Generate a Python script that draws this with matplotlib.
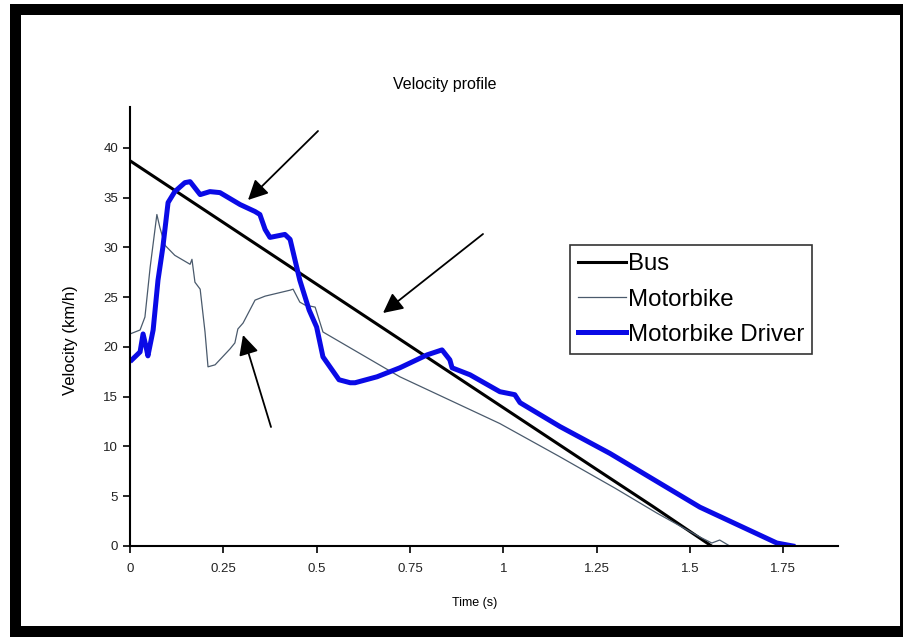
import matplotlib
matplotlib.use("Agg")
import matplotlib.pyplot as plt
from matplotlib.patches import Rectangle

plt.rcParams['font.family'] = ['Liberation Sans', 'DejaVu Sans']

# --- data ---
bus_t = [0.0, 0.25, 0.5, 0.75, 1.0, 1.25, 1.4, 1.558]
bus_v = [38.7, 32.5, 26.3, 20.1, 13.9, 7.7, 4.0, 0.0]

moto_t = [0.0, 0.027, 0.04, 0.054, 0.072, 0.08, 0.094, 0.12, 0.161, 0.166,
          0.174, 0.188, 0.201, 0.209, 0.228, 0.268, 0.281, 0.289, 0.303,
          0.335, 0.362, 0.429, 0.437, 0.455, 0.469, 0.496, 0.517, 0.723,
          0.991, 1.15, 1.3, 1.412, 1.527, 1.559, 1.58, 1.607]
moto_v = [21.3, 21.7, 23.0, 28.0, 33.3, 32.0, 30.2, 29.2, 28.3, 28.8,
          26.5, 25.8, 21.5, 18.0, 18.2, 19.8, 20.4, 21.8, 22.4,
          24.7, 25.1, 25.7, 25.8, 24.5, 24.2, 24.0, 21.5, 17.0,
          12.3, 9.0, 5.8, 3.3, 0.9, 0.3, 0.6, 0.0]

driver_t = [0.005, 0.027, 0.035, 0.043, 0.048, 0.062, 0.075, 0.088, 0.102,
            0.12, 0.147, 0.161, 0.188, 0.214, 0.241, 0.295, 0.335, 0.348,
            0.362, 0.375, 0.415, 0.429, 0.455, 0.48, 0.5, 0.517, 0.56,
            0.59, 0.603, 0.662, 0.723, 0.796, 0.836, 0.857, 0.863, 0.911,
            0.991, 1.031, 1.045, 1.152, 1.286, 1.527, 1.733, 1.776]
driver_v = [18.7, 19.5, 21.3, 20.0, 19.1, 21.7, 26.7, 30.0, 34.5,
            35.6, 36.5, 36.6, 35.3, 35.6, 35.5, 34.3, 33.6, 33.3,
            31.8, 31.0, 31.3, 30.8, 26.7, 23.7, 22.0, 19.0, 16.7,
            16.4, 16.4, 17.0, 17.9, 19.2, 19.7, 18.7, 17.9, 17.2,
            15.5, 15.2, 14.4, 12.0, 9.3, 3.9, 0.3, 0.0]

x_ticks = [0, 0.25, 0.5, 0.75, 1, 1.25, 1.5, 1.75]
x_tick_labels = ["0", "0.25", "0.5", "0.75", "1", "1.25", "1.5", "1.75"]
y_ticks = [0, 5, 10, 15, 20, 25, 30, 35, 40]

W, H = 904, 637
fig = plt.figure(figsize=(W / 100, H / 100), dpi=100)
ax = fig.add_axes([130 / W, 1 - 546 / H, (838 - 130) / W, (546 - 107) / H])

ax.plot(bus_t, bus_v, color="black", lw=2.2, label="Bus")
ax.plot(moto_t, moto_v, color="#4a5a6c", lw=0.9, label="Motorbike")
ax.plot(driver_t, driver_v, color="#0a0ae6", lw=3.6, label="Motorbike Driver")

ax.set_xlim(0, 1.897)
ax.set_ylim(0, 44.1)
ax.set_xticks(x_ticks)
ax.set_xticklabels(x_tick_labels)
ax.set_yticks(y_ticks)
ax.tick_params(direction="out", length=5, width=1.2, labelsize=9.5,
               colors="black", labelcolor="#222222")
ax.tick_params(axis="x", pad=7)
for s in ["top", "right"]:
    ax.spines[s].set_visible(False)
for s in ["left", "bottom"]:
    ax.spines[s].set_linewidth(1.5)

ax.set_xlabel("Time (s)", fontsize=9)
ax.xaxis.set_label_coords((475 - 130) / (838 - 130), -(597 - 546) / (546 - 107))
ax.set_ylabel("Velocity (km/h)", fontsize=12)
ax.yaxis.set_label_coords(-(130 - 78) / (838 - 130), (546 - 340) / (546 - 107))
fig.text(445 / W, 1 - 85 / H, "Velocity profile", ha="center", va="center",
         fontsize=11.5)

leg = ax.legend(loc="upper left", bbox_to_anchor=(570 / W, 1 - 245 / H),
                bbox_transform=fig.transFigure, fontsize=17.3, frameon=True,
                fancybox=False, edgecolor="black", handlelength=2.0,
                handletextpad=0.05, borderpad=0.35, labelspacing=0.55,
                borderaxespad=0)
leg.get_frame().set_linewidth(1.2)

# arrows pointing at the curves
arrows = [((318, 131), (248, 200)), ((483, 234), (383, 313)),
          ((271, 427), (243, 335))]
for (x0, y0), (x1, y1) in arrows:
    ax.annotate("", xy=(x1, H - y1), xycoords="figure pixels",
                xytext=(x0, H - y0), textcoords="figure pixels",
                arrowprops=dict(arrowstyle="-|>", color="black", lw=1.3,
                                mutation_scale=30, shrinkA=0, shrinkB=0))

# black frame round the picture
frame = [(10, 0, 11, H - 4), (10, H - 15, W - 10, 11),
         (10, 0, W - 10, 11), (900, 0, 3, H - 4)]
for x, y, w, h in frame:
    fig.add_artist(Rectangle((x / W, y / H), w / W, h / H,
                             transform=fig.transFigure, color="black", lw=0))

fig.savefig("out.png", dpi=100)
